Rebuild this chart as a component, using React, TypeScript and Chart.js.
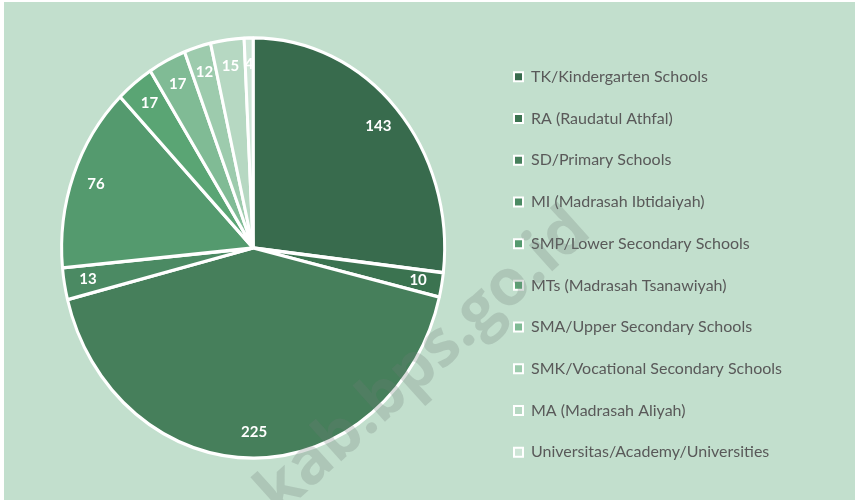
import React, { useEffect, useRef } from "react";
import { Chart, registerables } from "chart.js";

Chart.register(...registerables);

const categories = [
  "TK/Kindergarten Schools",
  "RA (Raudatul Athfal)",
  "SD/Primary Schools",
  "MI (Madrasah Ibtidaiyah)",
  "SMP/Lower Secondary Schools",
  "MTs (Madrasah Tsanawiyah)",
  "SMA/Upper Secondary Schools",
  "SMK/Vocational Secondary Schools",
  "MA (Madrasah Aliyah)",
  "Universitas/Academy/Universities",
];
const schoolCounts = [143, 10, 225, 13, 76, 17, 17, 12, 15, 4];
const sliceColors = [
  "#386b4d",
  "#3b7350",
  "#467f5b",
  "#4b8a63",
  "#549a6e",
  "#5aa574",
  "#80bb95",
  "#9dcbad",
  "#b6d8c2",
  "#cde5d6",
];
const watermarkText = "kab.bps.go.id";

const SY = 1.097; // vertical stretch of the pie (ellipse)
const LABEL_FACTOR = 0.875;

const ellipseAndLabels = {
  id: "ellipseAndLabels",
  beforeDatasetsDraw(chart: any) {
    const arc = chart.getDatasetMeta(0).data[0];
    if (!arc) return;
    const { x, y } = arc;
    const ctx = chart.ctx;
    ctx.save();
    ctx.translate(x, y);
    ctx.scale(1, SY);
    ctx.translate(-x, -y);
  },
  afterDatasetsDraw(chart: any) {
    const ctx = chart.ctx;
    ctx.restore();
    const meta = chart.getDatasetMeta(0);
    const values = chart.data.datasets[0].data;
    ctx.save();
    ctx.fillStyle = "#ffffff";
    ctx.font = "bold 15px Lato";
    ctx.textAlign = "center";
    ctx.textBaseline = "middle";
    meta.data.forEach((a: any, i: number) => {
      const mid = (a.startAngle + a.endAngle) / 2;
      const r = a.outerRadius * LABEL_FACTOR;
      const lx = a.x + Math.cos(mid) * r;
      const ly = a.y + Math.sin(mid) * r * SY;
      ctx.fillText(String(values[i]), lx, ly);
    });
    ctx.restore();
  },
  afterDraw(chart: any) {
    const ctx = chart.ctx;
    ctx.save();
    ctx.translate(420, 360);
    ctx.rotate((-42 * Math.PI) / 180);
    ctx.font = "bold 64px 'Open Sans'";
    ctx.textAlign = "center";
    ctx.textBaseline = "middle";
    ctx.fillStyle = "rgba(110,125,118,0.25)";
    ctx.fillText(watermarkText, 0, 0);
    ctx.restore();
  },
};

export default function App() {
  const ref = useRef<HTMLCanvasElement>(null);
  useEffect(() => {
    if (!ref.current) return;
    const chart = new Chart(ref.current, {
      type: "pie",
      data: {
        labels: categories,
        datasets: [
          {
            data: schoolCounts,
            backgroundColor: sliceColors,
            borderColor: "#ffffff",
            borderWidth: 3,
            radius: 191.5,
          } as any,
        ],
      },
      options: {
        animation: false,
        responsive: true,
        maintainAspectRatio: false,
        layout: { padding: { left: 14, right: 63, top: 0, bottom: 6 } },
        plugins: {
          tooltip: { enabled: false },
          legend: {
            position: "right",
            align: "center",
            title: {
              display: true,
              text: " ",
              font: { size: 12, family: "Lato" },
              padding: { top: 18.6, bottom: 0 },
            },
            labels: {
              color: "#595959",
              font: { family: "Lato", size: 16 },
              boxWidth: 9,
              boxHeight: 9,
              padding: 25.7,
              generateLabels: (c: any) => {
                const items = (Chart as any).overrides.doughnut.plugins.legend.labels.generateLabels(c);
                items.forEach((it: any) => {
                  it.lineWidth = 2;
                  it.strokeStyle = "#ffffff";
                  it.fontColor = "#595959";
                });
                return items;
              },
            },
          },
        },
      },
      plugins: [ellipseAndLabels],
    });
    return () => chart.destroy();
  }, []);
  return (
    <div
      style={{
        position: "fixed",
        left: 4,
        top: 2,
        width: 851,
        height: 498,
        background: "#c2dfcd",
      }}
    >
      <canvas ref={ref} />
    </div>
  );
}
